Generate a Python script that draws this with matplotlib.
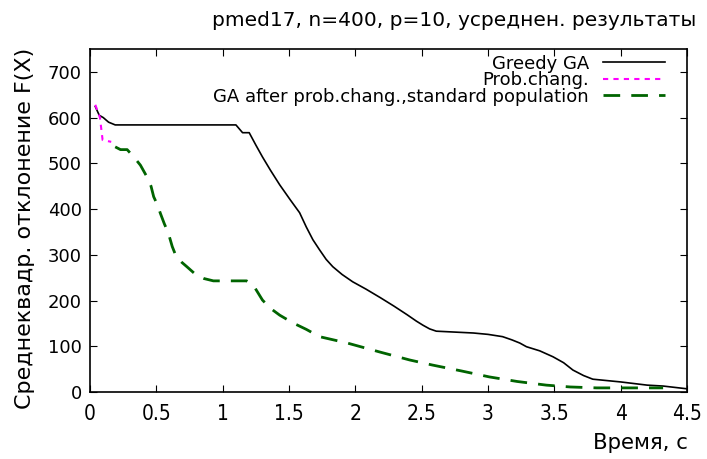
import numpy as np
import matplotlib
matplotlib.use('Agg')
import matplotlib.pyplot as plt
from matplotlib import font_manager

# Greedy GA (black solid)
greedy_t = [0.04, 0.07, 0.10, 0.14, 0.19, 0.6, 1.1, 1.15, 1.2, 1.25, 1.30, 1.36, 1.43, 1.51, 1.58,
            1.63, 1.68, 1.73, 1.78, 1.83, 1.90, 1.98, 2.08, 2.19, 2.29, 2.39, 2.46, 2.51, 2.56,
            2.61, 2.89, 3.00, 3.11, 3.18, 3.24, 3.29, 3.39, 3.49, 3.57, 3.64, 3.72, 3.79,
            4.0, 4.2, 4.32, 4.5]
greedy_f = [624, 605, 600, 590, 584, 584, 584, 567, 567, 540, 514, 485, 453, 420, 392,
            361, 333, 311, 290, 274, 257, 241, 225, 206, 188, 169, 155, 146, 138,
            133, 129, 126, 121, 114, 107, 99, 90, 77, 64, 48, 36, 28,
            22, 15, 13, 7]

# Prob.chang. (magenta dotted)
prob_t = [0.04, 0.075, 0.095, 0.16]
prob_f = [628, 600, 551, 547]

# GA after prob.chang., standard population (green dashed)
ga_t = [0.19, 0.23, 0.28, 0.33, 0.38, 0.43, 0.46, 0.48, 0.51, 0.53, 0.56, 0.59, 0.62, 0.65,
        0.69, 0.73, 0.80, 0.86, 0.93, 1.18, 1.23, 1.30, 1.36, 1.43, 1.53, 1.63, 1.73,
        1.94, 2.19, 2.41, 2.58, 2.80, 3.01, 3.22, 3.44, 3.62, 3.82, 4.32]
ga_f = [536, 530, 530, 514, 496, 470, 450, 427, 408, 391, 368, 348, 318, 296,
        284, 274, 256, 248, 243, 243, 234, 201, 183, 168, 151, 137, 121,
        107, 87, 70, 59, 46, 33, 23, 15, 11, 9, 9]

xlabels = ['0', '0.5', '1', '1.5', '2', '2.5', '3', '3.5', '4', '4.5']

# narrow font for the x ticks if there is one (regular weight only)
cond = [f.fname for f in font_manager.fontManager.ttflist
        if ('Condensed' in f.fname or 'Narrow' in f.fname)
        and not any(w in f.fname for w in ('Bold', 'Oblique', 'Italic'))]
cond.sort(key=lambda p: ('DejaVuSansCondensed.ttf' not in p, p))
xfont = dict(fontsize=13)
if cond:
    xfont = dict(fontproperties=font_manager.FontProperties(fname=cond[0], size=15))

fig = plt.figure(figsize=(7.07, 4.59), dpi=100)
ax = fig.add_axes([90/707, (459-392)/459, (687-90)/707, (392-49)/459])

ax.plot(greedy_t, greedy_f, color='black', lw=1.2, label='Greedy GA')
ax.plot(prob_t, prob_f, color='#ff00ff', lw=1.5, ls=(0, (2.5, 2.5)), label='Prob.chang.')
ax.plot(ga_t, ga_f, color='#006400', lw=2, ls=(0, (6, 4)),
        label='GA after prob.chang.,standard population')

ax.set_xlim(0, 4.5)
ax.set_ylim(0, 750)
ax.set_xticks(np.arange(0, 4.51, 0.5))
ax.set_xticklabels(xlabels, **xfont)
ax.set_yticks(np.arange(0, 701, 100))
ax.tick_params(direction='in', top=True, right=True, length=5, pad=6)
ax.tick_params(axis='x', pad=9)
ax.tick_params(axis='y', labelsize=13)
for s in ax.spines.values():
    s.set_linewidth(1.2)

leg = ax.legend(loc='upper right', frameon=False, markerfirst=False, fontsize=13,
                handlelength=3.4, labelspacing=-0.08, borderaxespad=0.0,
                bbox_to_anchor=(0.975, 1.005))

fig.text(454/707, 1 - 20/459, 'pmed17, n=400, p=10, усреднен. результаты',
         ha='center', va='center', fontsize=14.5)
fig.text(25/707, (459 - 228)/459, 'Среднеквадр. отклонение F(X)', rotation=90,
         ha='center', va='center', fontsize=16)
fig.text(640/707, 1 - 443/459, 'Время, с', ha='center', va='center', fontsize=15.3)

fig.savefig('out.png', dpi=100)
